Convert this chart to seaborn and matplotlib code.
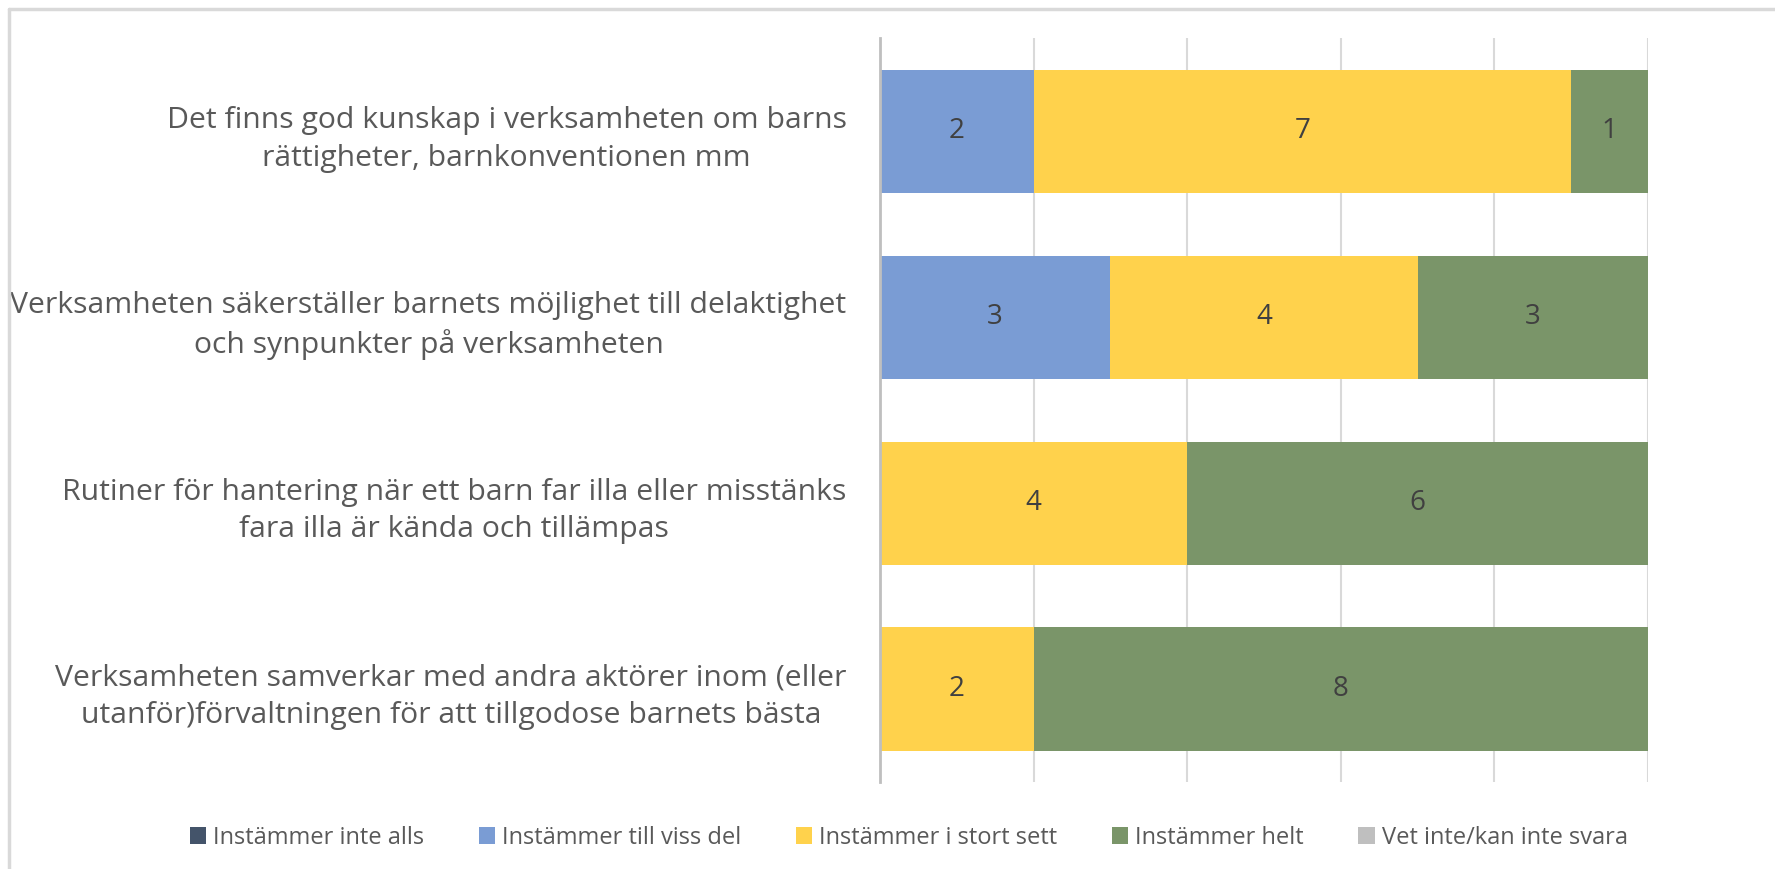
import numpy as np
import pandas as pd
import seaborn as sns
import matplotlib.pyplot as plt
from matplotlib.patches import Patch
from matplotlib.lines import Line2D

# Categories and series values (number of answers)
categories = [
    "Det finns god kunskap i verksamheten om barns\nrättigheter, barnkonventionen mm",
    "Verksamheten säkerställer barnets möjlighet till delaktighet\noch synpunkter på verksamheten",
    "Rutiner för hantering när ett barn far illa eller misstänks\nfara illa är kända och tillämpas",
    "Verksamheten samverkar med andra aktörer inom (eller\nutanför)förvaltningen för att tillgodose barnets bästa",
]
series_names = [
    "Instämmer inte alls",
    "Instämmer till viss del",
    "Instämmer i stort sett",
    "Instämmer helt",
    "Vet inte/kan inte svara",
]
inte_alls = [0, 0, 0, 0]
till_viss_del = [2, 3, 0, 0]
i_stort_sett = [7, 4, 4, 2]
helt = [1, 3, 6, 8]
vet_inte = [0, 0, 0, 0]

colors = ["#44546A", "#7A9CD4", "#FFD24C", "#7A9569", "#BFBFBF"]

sns.set_style("white")
plt.rcParams["font.family"] = ["Open Sans", "DejaVu Sans"]
text_color = "#595959"

fig = plt.figure(figsize=(17.75, 8.69), dpi=100)
ax = fig.add_axes([0.4957, 0.100, 0.4328, 0.856])

values = [inte_alls, till_viss_del, i_stort_sett, helt, vet_inte]
left = np.zeros(len(categories))
for name, vals, col in zip(series_names, values, colors):
    df = pd.DataFrame({"cat": categories, "val": vals})
    sns.barplot(data=df, x="val", y="cat", orient="h", color=col,
                width=0.663, left=left, ax=ax, saturation=1, linewidth=0)
    cont = ax.containers[-1]
    labels = [str(v) if v > 0 else "" for v in vals]
    ax.bar_label(cont, labels=labels, label_type="center",
                 fontsize=20, color="#404040")
    left = left + np.array(vals)

ax.set_xlim(0, 10)
ax.set_xticks(np.arange(0, 11, 2))
ax.set_xticklabels([])
ax.xaxis.grid(True, color="#D9D9D9", linewidth=1.5)
ax.set_axisbelow(True)
ax.set_xlabel("")
ax.set_ylabel("")
for s in ["top", "right", "bottom"]:
    ax.spines[s].set_visible(False)
ax.spines["left"].set_color("#BFBFBF")
ax.spines["left"].set_linewidth(2)
ax.tick_params(axis="y", length=0, pad=24, labelsize=21.7, labelcolor=text_color)
ax.tick_params(axis="x", length=0)
for t in ax.get_yticklabels():
    t.set_multialignment("center")
    t.set_linespacing(1.4)

handles = [Patch(facecolor=c, edgecolor="none") for c in colors]
fig.legend(handles, series_names, loc="center", bbox_to_anchor=(0.512, 0.036),
           ncol=5, frameon=False, fontsize=17, labelcolor=text_color,
           handlelength=0.7, handleheight=0.7, handletextpad=0.3,
           columnspacing=2.3)

# light frame on top and left edge
fig.add_artist(Line2D([9 / 1775, 9 / 1775], [0, 1 - 9 / 869],
                      transform=fig.transFigure, color="#D9D9D9", linewidth=2.5))
fig.add_artist(Line2D([9 / 1775, 1], [1 - 9 / 869, 1 - 9 / 869],
                      transform=fig.transFigure, color="#D9D9D9", linewidth=2.5))

fig.savefig("out.png", dpi=100, facecolor="white")
